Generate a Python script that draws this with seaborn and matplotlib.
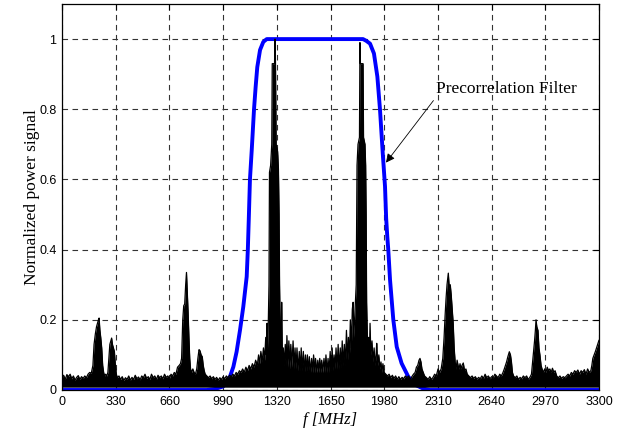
import matplotlib
matplotlib.use("Agg")
import matplotlib.pyplot as plt
import seaborn as sns
import pandas as pd

# ---------------- data ----------------
x_ticks = [0, 330, 660, 990, 1320, 1650, 1980, 2310, 2640, 2970, 3300]
y_ticks = [0, 0.2, 0.4, 0.6, 0.8, 1.0]
y_tick_labels = ["0", "0.2", "0.4", "0.6", "0.8", "1"]

# precorrelation filter response (blue)
filter_f = [0, 890, 940, 990, 1010, 1032, 1053, 1073, 1094, 1114, 1135, 1142,
            1148, 1155, 1166, 1180, 1190, 1200, 1217, 1237, 1258, 1850, 1870,
            1893, 1917, 1938, 1954, 1971, 1985, 1992, 1999, 2005, 2016, 2036,
            2057, 2087, 2128, 2170, 2220, 2260, 3300]
filter_v = [0, 0, 0.003, 0.01, 0.02, 0.038, 0.066, 0.109, 0.171, 0.237, 0.323, 0.4,
            0.49, 0.6, 0.684, 0.8, 0.864, 0.92, 0.969, 0.992, 1.0, 1.0, 0.995,
            0.987, 0.959, 0.893, 0.80, 0.675, 0.58, 0.49, 0.437, 0.4, 0.313, 0.2,
            0.123, 0.076, 0.038, 0.015, 0.004, 0, 0]

# normalized received spectrum (black)
spec_f = [
    0, 10, 20, 30, 40, 50, 60, 70, 80, 90, 100, 110, 120, 130, 140, 150, 160, 170, 180, 190,
    197, 205, 212, 218, 224, 228, 233, 238, 244, 250, 256, 262, 268, 275, 282, 288, 294, 300,
    305, 310, 316, 322, 328, 334, 340, 350, 360, 370, 380, 390, 400, 410, 420, 430, 440, 450,
    460, 470, 480, 490, 500, 510, 520, 530, 540, 550, 560, 570, 580, 590, 600, 610, 620, 630,
    640, 650, 660, 670, 680, 690, 700, 710, 720, 728, 735, 742, 748, 754, 760, 765, 770, 775,
    780, 785, 790, 797, 804, 812, 820, 828, 835, 842, 848, 855, 862, 868, 874, 880, 890, 900,
    910, 920, 930, 940, 950, 960, 970, 980, 990, 1000, 1010, 1020, 1030, 1040, 1050, 1060,
    1070, 1080, 1090, 1100, 1110, 1120, 1130, 1140, 1150, 1160, 1170, 1180, 1190, 1200, 1208,
    1215, 1222, 1230, 1238, 1245, 1252, 1256, 1260, 1264, 1268, 1272, 1275, 1282, 1289, 1292,
    1306, 1309, 1312, 1316, 1325, 1330, 1334, 1337, 1342, 1346, 1350, 1354, 1360, 1366, 1372,
    1378, 1382, 1388, 1394, 1400, 1406, 1412, 1420, 1426, 1432, 1438, 1444, 1450, 1458, 1464,
    1470, 1476, 1483, 1490, 1496, 1502, 1508, 1514, 1520, 1527, 1534, 1540, 1546, 1552, 1558,
    1565, 1572, 1578, 1584, 1590, 1596, 1602, 1610, 1616, 1622, 1628, 1635, 1641, 1648, 1654,
    1660, 1666, 1672, 1678, 1684, 1690, 1697, 1703, 1710, 1716, 1722, 1728, 1735, 1741, 1748,
    1754, 1760, 1766, 1772, 1778, 1784, 1789, 1793, 1800, 1808, 1813, 1819, 1828, 1831, 1834,
    1850, 1853, 1862, 1866, 1869, 1872, 1878, 1884, 1889, 1893, 1898, 1905, 1911, 1918, 1924,
    1930, 1934, 1940, 1947, 1953, 1960, 1966, 1972, 1980, 1990, 2000, 2010, 2020, 2030, 2040,
    2050, 2060, 2070, 2080, 2090, 2100, 2110, 2120, 2130, 2140, 2150, 2160, 2170, 2178, 2186,
    2194, 2200, 2206, 2212, 2220, 2228, 2240, 2250, 2260, 2270, 2280, 2290, 2300, 2311, 2320,
    2330, 2340, 2348, 2354, 2360, 2366, 2374, 2380, 2386, 2392, 2398, 2404, 2410, 2416, 2422,
    2428, 2434, 2440, 2446, 2452, 2458, 2466, 2474, 2482, 2490, 2500, 2510, 2520, 2530, 2540,
    2550, 2560, 2570, 2580, 2590, 2600, 2610, 2620, 2630, 2640, 2650, 2660, 2670, 2680, 2690,
    2700, 2710, 2718, 2725, 2732, 2740, 2749, 2756, 2762, 2768, 2775, 2785, 2795, 2805, 2815,
    2825, 2835, 2845, 2855, 2865, 2875, 2885, 2892, 2898, 2904, 2909, 2913, 2918, 2925, 2931,
    2937, 2944, 2950, 2958, 2966, 2974, 2982, 2990, 2998, 3006, 3014, 3022, 3030, 3040, 3050,
    3060, 3070, 3080, 3090, 3100, 3110, 3120, 3130, 3140, 3150, 3160, 3170, 3180, 3190, 3200,
    3210, 3220, 3230, 3240, 3250, 3256, 3262, 3270, 3278, 3285, 3292, 3300]
spec_v = [
    0.035, 0.042, 0.03, 0.044, 0.038, 0.045, 0.032, 0.04, 0.028, 0.036, 0.041, 0.03, 0.038, 0.033, 0.04, 0.035, 0.045, 0.05, 0.048, 0.07,
    0.13, 0.16, 0.18, 0.19, 0.2, 0.205, 0.17, 0.15, 0.12, 0.07, 0.05, 0.04, 0.045, 0.04, 0.05, 0.09, 0.13, 0.14,
    0.148, 0.13, 0.12, 0.11, 0.07, 0.045, 0.035, 0.04, 0.03, 0.038, 0.027, 0.035, 0.03, 0.04, 0.028, 0.036, 0.03, 0.042,
    0.032, 0.037, 0.029, 0.04, 0.035, 0.045, 0.033, 0.038, 0.03, 0.045, 0.035, 0.04, 0.03, 0.042, 0.035, 0.04, 0.032, 0.045,
    0.036, 0.04, 0.033, 0.045, 0.04, 0.05, 0.045, 0.065, 0.07, 0.075, 0.09, 0.2, 0.24, 0.245, 0.3, 0.335, 0.28, 0.22,
    0.15, 0.09, 0.06, 0.05, 0.06, 0.05, 0.045, 0.06, 0.09, 0.115, 0.112, 0.1, 0.095, 0.07, 0.055, 0.045, 0.04, 0.035,
    0.04, 0.032, 0.038, 0.03, 0.036, 0.028, 0.035, 0.03, 0.038, 0.032, 0.04, 0.035, 0.042, 0.038, 0.045, 0.04,
    0.05, 0.045, 0.055, 0.05, 0.06, 0.05, 0.065, 0.055, 0.07, 0.06, 0.075, 0.065, 0.085, 0.07, 0.1,
    0.075, 0.11, 0.08, 0.12, 0.085, 0.15, 0.1, 0.19, 0.12, 0.2, 0.3, 0.62, 0.64, 0.70, 0.93,
    0.93, 1.0, 0.93, 0.70, 0.68, 0.63, 0.5, 0.3, 0.15, 0.12, 0.25, 0.1, 0.12, 0.07, 0.13,
    0.07, 0.155, 0.065, 0.14, 0.06, 0.13, 0.065, 0.14, 0.06, 0.12, 0.06, 0.12, 0.055, 0.11, 0.055,
    0.12, 0.055, 0.11, 0.05, 0.1, 0.05, 0.1, 0.05, 0.095, 0.05, 0.09, 0.05, 0.1, 0.05, 0.09,
    0.05, 0.085, 0.05, 0.09, 0.05, 0.085, 0.05, 0.09, 0.05, 0.1, 0.05, 0.09, 0.05, 0.11, 0.055,
    0.12, 0.055, 0.1, 0.06, 0.12, 0.06, 0.13, 0.06, 0.12, 0.065, 0.14, 0.07, 0.13, 0.07, 0.17,
    0.08, 0.15, 0.09, 0.2, 0.12, 0.23, 0.25, 0.15, 0.22, 0.3, 0.64, 0.70, 0.72, 0.99, 0.93,
    0.93, 0.72, 0.70, 0.64, 0.5, 0.25, 0.12, 0.15, 0.1, 0.19, 0.1, 0.14, 0.08, 0.12, 0.07,
    0.1, 0.133, 0.07, 0.1, 0.06, 0.08, 0.05, 0.075, 0.05, 0.045, 0.04, 0.045, 0.035, 0.042, 0.033,
    0.04, 0.03, 0.038, 0.03, 0.036, 0.032, 0.04, 0.035, 0.04, 0.03, 0.038, 0.045, 0.05, 0.065, 0.07,
    0.085, 0.09, 0.08, 0.06, 0.05, 0.04, 0.035, 0.03, 0.038, 0.03, 0.036, 0.045, 0.04, 0.06, 0.05,
    0.06, 0.09, 0.15, 0.21, 0.26, 0.3, 0.333, 0.29, 0.3, 0.27, 0.23, 0.19, 0.12, 0.08, 0.06,
    0.085, 0.07, 0.06, 0.075, 0.06, 0.07, 0.077, 0.055, 0.06, 0.045, 0.04, 0.035, 0.04, 0.033, 0.038,
    0.03, 0.036, 0.032, 0.04, 0.033, 0.045, 0.035, 0.04, 0.032, 0.038, 0.035, 0.045, 0.04, 0.035, 0.045,
    0.04, 0.05, 0.06, 0.07, 0.08, 0.095, 0.109, 0.1, 0.08, 0.05, 0.04, 0.035, 0.04, 0.03, 0.036,
    0.032, 0.04, 0.035, 0.04, 0.03, 0.036, 0.045, 0.08, 0.11, 0.14, 0.17, 0.2, 0.18, 0.17, 0.12,
    0.1, 0.07, 0.06, 0.05, 0.06, 0.05, 0.065, 0.055, 0.06, 0.05, 0.062, 0.05, 0.055, 0.04, 0.035,
    0.04, 0.033, 0.038, 0.035, 0.04, 0.045, 0.04, 0.05, 0.045, 0.055, 0.05, 0.057, 0.045, 0.055, 0.05,
    0.058, 0.045, 0.06, 0.05, 0.055, 0.07, 0.09, 0.1, 0.11, 0.12, 0.13, 0.142]

annotation_text = "Precorrelation Filter"

# ---------------- figure ----------------
sns.set_theme(style="white")
plt.rcParams["font.family"] = ["Liberation Sans", "DejaVu Sans"]

fig = plt.figure(figsize=(6.27, 4.32), dpi=100)
ax = fig.add_axes([62 / 627, 1 - 390 / 432, (599 - 62) / 627, (390 - 4) / 432])

df_filter = pd.DataFrame({"f": filter_f, "v": filter_v})
df_spec = pd.DataFrame({"f": spec_f, "v": spec_v})

sns.lineplot(data=df_filter, x="f", y="v", ax=ax, color="#0000ff", lw=2.8,
             estimator=None, sort=False, zorder=3)
ax.fill_between(df_spec["f"], 0.008, df_spec["v"], color="black", lw=0, zorder=4)
sns.lineplot(data=df_spec, x="f", y="v", ax=ax, color="black", lw=0.9,
             estimator=None, sort=False, zorder=5)

ax.set_xlim(0, 3300)
ax.set_ylim(0, 1.1)
ax.set_xticks(x_ticks)
ax.set_xticklabels([str(t) for t in x_ticks])
ax.set_yticks(y_ticks)
ax.set_yticklabels(y_tick_labels)

ax.grid(True, color="#333333", linestyle=(0, (5, 4)), lw=0.8, zorder=1)
ax.set_axisbelow(True)
for s in ax.spines.values():
    s.set_color("black")
    s.set_linewidth(0.9)
    s.set_zorder(6)

ax.tick_params(direction="in", length=4, width=0.8, colors="black",
               top=True, right=True, labelsize=9, pad=4)
for lab in ax.get_xticklabels() + ax.get_yticklabels():
    lab.set_fontfamily("Liberation Sans")

ax.set_xlabel("f [MHz]", fontfamily="Liberation Serif", style="italic",
              fontsize=12, labelpad=3, color="black")
ax.set_ylabel("Normalized power signal", fontfamily="Liberation Serif",
              fontsize=12.5, labelpad=-1, color="black")

ax.annotate(annotation_text, xy=(1991, 0.648), xytext=(2298, 0.857),
            fontfamily="Liberation Serif", fontsize=12.5, color="black",
            ha="left", va="center", zorder=7,
            arrowprops=dict(arrowstyle="-|>", color="black", lw=0.6,
                            mutation_scale=13, shrinkA=0, shrinkB=0,
                            relpos=(0.0, 0.0)))

fig.savefig("out.png", dpi=100, facecolor="white")
